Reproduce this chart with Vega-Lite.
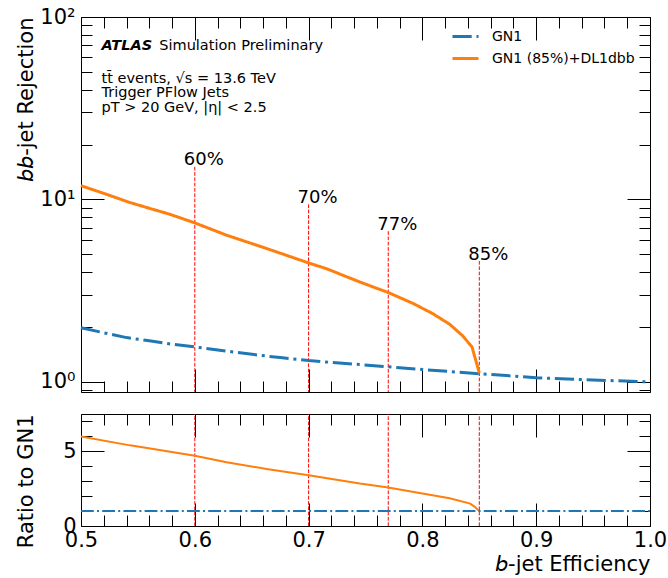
{
  "$schema": "https://vega.github.io/schema/vega-lite/v6.json",
  "padding": {"left": 15, "top": 5, "right": 0, "bottom": 5},
  "config": {
    "view": {"stroke": "black", "strokeWidth": 1},
    "font": "DejaVu Sans",
    "text": {"font": "DejaVu Sans", "color": "black"},
    "axis": {"grid": false, "domain": false, "tickColor": "black", "tickWidth": 1, "labelColor": "black", "titleColor": "black", "titleFontWeight": "normal", "labelFont": "DejaVu Sans", "titleFont": "DejaVu Sans", "labelFlush": false, "labelOverlap": false, "labelBound": false, "zindex": 0},
    "legend": {"labelFont": "DejaVu Sans", "labelColor": "black"},
    "concat": {"spacing": 20}
  },
  "datasets": {
    "curves": [
      {"series": "GN1", "eff": 0.50, "rej": 1.98},
      {"series": "GN1", "eff": 0.52, "rej": 1.86},
      {"series": "GN1", "eff": 0.54, "rej": 1.75},
      {"series": "GN1", "eff": 0.56, "rej": 1.68},
      {"series": "GN1", "eff": 0.58, "rej": 1.61},
      {"series": "GN1", "eff": 0.60, "rej": 1.556},
      {"series": "GN1", "eff": 0.63, "rej": 1.47},
      {"series": "GN1", "eff": 0.657, "rej": 1.40},
      {"series": "GN1", "eff": 0.675, "rej": 1.36},
      {"series": "GN1", "eff": 0.70, "rej": 1.31},
      {"series": "GN1", "eff": 0.72, "rej": 1.28},
      {"series": "GN1", "eff": 0.745, "rej": 1.245},
      {"series": "GN1", "eff": 0.77, "rej": 1.21},
      {"series": "GN1", "eff": 0.80, "rej": 1.17},
      {"series": "GN1", "eff": 0.85, "rej": 1.11},
      {"series": "GN1", "eff": 0.90, "rej": 1.055},
      {"series": "GN1", "eff": 0.95, "rej": 1.025},
      {"series": "GN1", "eff": 1.00, "rej": 1.0},
      {"series": "GN1 (85%)+DL1dbb", "eff": 0.50, "rej": 11.9},
      {"series": "GN1 (85%)+DL1dbb", "eff": 0.52, "rej": 10.8},
      {"series": "GN1 (85%)+DL1dbb", "eff": 0.543, "rej": 9.62},
      {"series": "GN1 (85%)+DL1dbb", "eff": 0.56, "rej": 8.95},
      {"series": "GN1 (85%)+DL1dbb", "eff": 0.578, "rej": 8.30},
      {"series": "GN1 (85%)+DL1dbb", "eff": 0.60, "rej": 7.44},
      {"series": "GN1 (85%)+DL1dbb", "eff": 0.628, "rej": 6.37},
      {"series": "GN1 (85%)+DL1dbb", "eff": 0.663, "rej": 5.39},
      {"series": "GN1 (85%)+DL1dbb", "eff": 0.70, "rej": 4.49},
      {"series": "GN1 (85%)+DL1dbb", "eff": 0.7155, "rej": 4.18},
      {"series": "GN1 (85%)+DL1dbb", "eff": 0.745, "rej": 3.53},
      {"series": "GN1 (85%)+DL1dbb", "eff": 0.77, "rej": 3.09},
      {"series": "GN1 (85%)+DL1dbb", "eff": 0.792, "rej": 2.69},
      {"series": "GN1 (85%)+DL1dbb", "eff": 0.809, "rej": 2.37},
      {"series": "GN1 (85%)+DL1dbb", "eff": 0.824, "rej": 2.07},
      {"series": "GN1 (85%)+DL1dbb", "eff": 0.835, "rej": 1.80},
      {"series": "GN1 (85%)+DL1dbb", "eff": 0.8436, "rej": 1.556},
      {"series": "GN1 (85%)+DL1dbb", "eff": 0.85, "rej": 1.12}
    ],
    "ratio": [
      {"series": "GN1", "eff": 0.50, "ratio": 1.0},
      {"series": "GN1", "eff": 1.00, "ratio": 1.0},
      {"series": "GN1 (85%)+DL1dbb", "eff": 0.50, "ratio": 6.0},
      {"series": "GN1 (85%)+DL1dbb", "eff": 0.543, "ratio": 5.4},
      {"series": "GN1 (85%)+DL1dbb", "eff": 0.5636, "ratio": 5.16},
      {"series": "GN1 (85%)+DL1dbb", "eff": 0.60, "ratio": 4.71},
      {"series": "GN1 (85%)+DL1dbb", "eff": 0.628, "ratio": 4.27},
      {"series": "GN1 (85%)+DL1dbb", "eff": 0.663, "ratio": 3.82},
      {"series": "GN1 (85%)+DL1dbb", "eff": 0.70, "ratio": 3.40},
      {"series": "GN1 (85%)+DL1dbb", "eff": 0.745, "ratio": 2.84},
      {"series": "GN1 (85%)+DL1dbb", "eff": 0.77, "ratio": 2.58},
      {"series": "GN1 (85%)+DL1dbb", "eff": 0.80, "ratio": 2.17},
      {"series": "GN1 (85%)+DL1dbb", "eff": 0.824, "ratio": 1.86},
      {"series": "GN1 (85%)+DL1dbb", "eff": 0.842, "ratio": 1.50},
      {"series": "GN1 (85%)+DL1dbb", "eff": 0.846, "ratio": 1.28},
      {"series": "GN1 (85%)+DL1dbb", "eff": 0.85, "ratio": 1.0}
    ],
    "wps": [
      {"wp": 0.60, "label": "60%", "top": 15.1},
      {"wp": 0.70, "label": "70%", "top": 9.4},
      {"wp": 0.77, "label": "77%", "top": 6.7},
      {"wp": 0.85, "label": "85%", "top": 4.6}
    ]
  },
  "vconcat": [
    {
      "width": 569,
      "height": 375,
      "resolve": {"axis": {"x": "independent", "y": "independent"}},
      "layer": [
        {
          "data": {"name": "wps"},
          "mark": {"type": "rule", "color": "#ff0000", "strokeWidth": 1, "strokeDash": [3.7, 1.6]},
          "encoding": {
            "x": {"field": "wp", "type": "quantitative", "scale": {"domain": [0.5, 1.0], "nice": false, "zero": false},
                  "axis": {"orient": "bottom", "values": [0.5, 0.6, 0.7, 0.8, 0.9, 1.0], "tickSize": -23, "labels": false, "title": null}},
            "y": {"field": "top", "type": "quantitative", "scale": {"type": "log", "domain": [0.881, 100], "nice": false},
                  "axis": {"orient": "left", "values": [1, 10, 100], "tickSize": -23, "labelFontSize": 21, "labelPadding": 29,
                           "labelExpr": "datum.value < 5 ? '10⁰' : (datum.value < 50 ? '10¹' : '10²')",
                           "title": "𝘣𝘣-jet Rejection", "titleFontSize": 21, "titleAnchor": "end", "titlePadding": 3}},
            "y2": {"datum": 0.881}
          }
        },
        {
          "data": {"name": "curves"},
          "mark": {"type": "line", "strokeWidth": 3},
          "encoding": {
            "x": {"field": "eff", "type": "quantitative",
                  "axis": {"orient": "bottom", "values": [0.52, 0.54, 0.56, 0.58, 0.62, 0.64, 0.66, 0.68, 0.72, 0.74, 0.76, 0.78, 0.82, 0.84, 0.86, 0.88, 0.92, 0.94, 0.96, 0.98], "tickSize": -11, "labels": false, "title": null}},
            "y": {"field": "rej", "type": "quantitative",
                  "axis": {"orient": "left", "values": [0.9, 2, 3, 4, 5, 6, 7, 8, 9, 20, 30, 40, 50, 60, 70, 80, 90], "tickSize": -11, "labels": false, "title": null}},
            "color": {"field": "series", "type": "nominal",
                      "scale": {"domain": ["GN1", "GN1 (85%)+DL1dbb"], "range": ["#1f77b4", "#ff7f0e"]},
                      "legend": {"title": null, "orient": "none", "legendX": 370, "legendY": 5, "symbolType": "stroke", "symbolStrokeWidth": 3, "symbolSize": 676, "labelFontSize": 14, "rowPadding": 0, "labelOffset": 12}},
            "strokeDash": {"field": "series", "type": "nominal",
                      "scale": {"domain": ["GN1", "GN1 (85%)+DL1dbb"], "range": [[19.2, 4.8, 3, 4.8], [1, 0]]},
                      "legend": {"title": null, "orient": "none", "legendX": 370, "legendY": 5, "symbolType": "stroke", "symbolStrokeWidth": 3, "symbolSize": 676, "labelFontSize": 14, "rowPadding": 0, "labelOffset": 12}}
          }
        },
        {
          "data": {"name": "wps"},
          "mark": {"type": "text", "fontSize": 18, "align": "left", "baseline": "alphabetic", "dx": -11, "dy": -1.5},
          "encoding": {
            "x": {"field": "wp", "type": "quantitative",
                  "axis": {"orient": "top", "values": [0.5, 0.6, 0.7, 0.8, 0.9, 1.0], "tickSize": -23, "labels": false, "title": null}},
            "y": {"field": "top", "type": "quantitative",
                  "axis": {"orient": "right", "values": [1, 10, 100], "tickSize": -23, "labels": false, "title": null}},
            "text": {"field": "label"}
          }
        },
        {
          "data": {"values": [{}]},
          "mark": {"type": "text", "text": "ATLAS", "fontSize": 14.5, "fontWeight": "bold", "fontStyle": "italic", "align": "left", "baseline": "alphabetic"},
          "encoding": {
            "x": {"datum": 0.518, "type": "quantitative",
                  "axis": {"orient": "top", "values": [0.52, 0.54, 0.56, 0.58, 0.62, 0.64, 0.66, 0.68, 0.72, 0.74, 0.76, 0.78, 0.82, 0.84, 0.86, 0.88, 0.92, 0.94, 0.96, 0.98], "tickSize": -11, "labels": false, "title": null}},
            "y": {"datum": 65.9, "type": "quantitative",
                  "axis": {"orient": "right", "values": [0.9, 2, 3, 4, 5, 6, 7, 8, 9, 20, 30, 40, 50, 60, 70, 80, 90], "tickSize": -11, "labels": false, "title": null}}
          }
        },
        {
          "data": {"values": [{}]},
          "mark": {"type": "text", "text": "Simulation Preliminary", "fontSize": 14.5, "align": "left", "baseline": "alphabetic"},
          "encoding": {
            "x": {"datum": 0.5688, "type": "quantitative", "axis": null},
            "y": {"datum": 65.9, "type": "quantitative", "axis": null}
          }
        },
        {
          "data": {"values": [{}]},
          "mark": {"type": "text", "text": "tt̄ events, √s = 13.6 TeV", "fontSize": 14.5, "align": "left", "baseline": "alphabetic"},
          "encoding": {
            "x": {"datum": 0.518, "type": "quantitative", "axis": null},
            "y": {"datum": 43.3, "type": "quantitative", "axis": null}
          }
        },
        {
          "data": {"values": [{}]},
          "mark": {"type": "text", "text": "Trigger PFlow Jets", "fontSize": 14.5, "align": "left", "baseline": "alphabetic"},
          "encoding": {
            "x": {"datum": 0.518, "type": "quantitative", "axis": null},
            "y": {"datum": 36.3, "type": "quantitative", "axis": null}
          }
        },
        {
          "data": {"values": [{}]},
          "mark": {"type": "text", "text": "pT > 20 GeV, |η| < 2.5", "fontSize": 14.5, "align": "left", "baseline": "alphabetic"},
          "encoding": {
            "x": {"datum": 0.518, "type": "quantitative", "axis": null},
            "y": {"datum": 30.2, "type": "quantitative", "axis": null}
          }
        }
      ]
    },
    {
      "width": 569,
      "height": 112,
      "resolve": {"axis": {"x": "independent", "y": "independent"}},
      "layer": [
        {
          "data": {"name": "wps"},
          "transform": [{"filter": "datum.wp < 0.75"}],
          "mark": {"type": "rule", "color": "#ff0000", "strokeWidth": 1, "strokeDash": [3.7, 1.6]},
          "encoding": {
            "x": {"field": "wp", "type": "quantitative", "scale": {"domain": [0.5, 1.0], "nice": false, "zero": false},
                  "axis": {"orient": "bottom", "values": [0.5, 0.6, 0.7, 0.8, 0.9, 1.0], "tickSize": -23, "format": ".1f", "labelFontSize": 21, "labelPadding": 26,
                           "title": "𝘣-jet Efficiency", "titleFontSize": 21, "titleAnchor": "end", "titlePadding": 3}},
            "y": {"datum": 0, "type": "quantitative", "scale": {"domain": [0, 7.5], "nice": false},
                  "axis": {"orient": "left", "values": [0, 5], "tickSize": -23, "labelFontSize": 21, "labelPadding": 28,
                           "title": "Ratio to GN1", "titleFontSize": 21, "titleAnchor": "end", "titlePadding": 26}},
            "y2": {"datum": 7.5}
          }
        },
        {
          "data": {"name": "wps"},
          "transform": [{"filter": "datum.wp > 0.75"}],
          "mark": {"type": "rule", "color": "#ff0000", "strokeWidth": 1, "strokeDash": [3.7, 1.6]},
          "encoding": {
            "x": {"field": "wp", "type": "quantitative",
                  "axis": {"orient": "bottom", "values": [0.52, 0.54, 0.56, 0.58, 0.62, 0.64, 0.66, 0.68, 0.72, 0.74, 0.76, 0.78, 0.82, 0.84, 0.86, 0.88, 0.92, 0.94, 0.96, 0.98], "tickSize": -11, "labels": false, "title": null}},
            "y": {"datum": 0, "type": "quantitative",
                  "axis": {"orient": "left", "values": [1, 2, 3, 4, 6, 7], "tickSize": -11, "labels": false, "title": null}},
            "y2": {"datum": 7.5}
          }
        },
        {
          "data": {"name": "ratio"},
          "transform": [{"filter": "datum.series === 'GN1 (85%)+DL1dbb'"}],
          "mark": {"type": "line", "strokeWidth": 2, "color": "#ff7f0e"},
          "encoding": {
            "x": {"field": "eff", "type": "quantitative",
                  "axis": {"orient": "top", "values": [0.5, 0.6, 0.7, 0.8, 0.9, 1.0], "tickSize": -23, "labels": false, "title": null}},
            "y": {"field": "ratio", "type": "quantitative",
                  "axis": {"orient": "right", "values": [0, 5], "tickSize": -23, "labels": false, "title": null}}
          }
        },
        {
          "data": {"name": "ratio"},
          "transform": [{"filter": "datum.series === 'GN1'"}],
          "mark": {"type": "line", "strokeWidth": 2, "color": "#1f77b4", "strokeDash": [12.8, 3.2, 2, 3.2]},
          "encoding": {
            "x": {"field": "eff", "type": "quantitative",
                  "axis": {"orient": "top", "values": [0.52, 0.54, 0.56, 0.58, 0.62, 0.64, 0.66, 0.68, 0.72, 0.74, 0.76, 0.78, 0.82, 0.84, 0.86, 0.88, 0.92, 0.94, 0.96, 0.98], "tickSize": -11, "labels": false, "title": null}},
            "y": {"field": "ratio", "type": "quantitative",
                  "axis": {"orient": "right", "values": [1, 2, 3, 4, 6, 7], "tickSize": -11, "labels": false, "title": null}}
          }
        }
      ]
    }
  ]
}
